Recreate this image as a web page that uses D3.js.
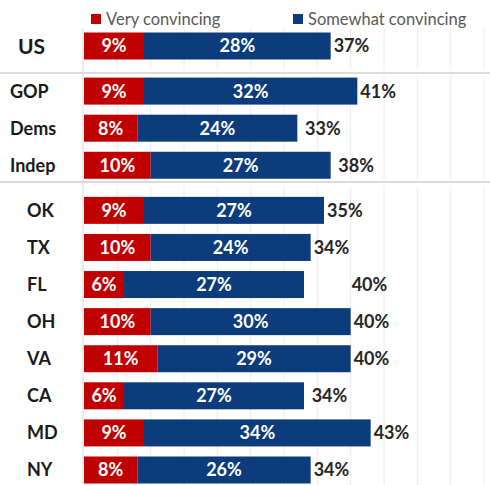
<!DOCTYPE html>
<html>
<head>
<meta charset="utf-8">
<script src="https://cdn.jsdelivr.net/npm/d3@7"></script>
<style>
  html, body { margin: 0; padding: 0; background: #fff; }
  svg { display: block; }
</style>
</head>
<body>
<svg id="chart" width="490" height="485"></svg>
<script>
// Share finding the arguments convincing, by group
const categories = ["US", "GOP", "Dems", "Indep", "OK", "TX", "FL", "OH", "VA", "CA", "MD", "NY"];
const groupOf = [0, 1, 1, 1, 2, 2, 2, 2, 2, 2, 2, 2];
const veryConvincing = [9, 9, 8, 10, 9, 10, 6, 10, 11, 6, 9, 8];
const somewhatConvincing = [28, 32, 24, 27, 27, 24, 27, 30, 29, 27, 34, 26];
const totals = [37, 41, 33, 38, 35, 34, 40, 40, 40, 34, 43, 34];
const seriesNames = ["Very convincing", "Somewhat convincing"];
const gridTicks = [5, 10, 15, 20, 25, 30, 35, 40, 45, 50, 55, 60];

const W = 490, H = 485;
const colors = ["#c00000", "#0c3c7c"];
const font = "Lato, 'Open Sans', sans-serif";

const svg = d3.select("#chart");

const x = d3.scaleLinear().domain([0, 60]).range([84, 484]);

// Rows are evenly stepped, with an extra gap between the three blocks
const groupGap = 8;
const rowIndex = d3.scaleLinear().domain([0, categories.length - 1]).range([46, 470 - 2 * groupGap]);
const rowCenter = i => rowIndex(i) + groupOf[i] * groupGap;
const barH = 27;

// light vertical gridlines, broken at each block separator
const blockSpans = [[28, 70], [76, 180], [186, 485]];
blockSpans.forEach(([y0, y1]) => {
  svg.append("g").selectAll("line").data(gridTicks).join("line")
    .attr("x1", d => x(d)).attr("x2", d => x(d))
    .attr("y1", y0).attr("y2", y1)
    .attr("stroke", "#ececec").attr("stroke-width", 1);
});

// category axis line
svg.append("line")
  .attr("x1", x(0) - 1).attr("x2", x(0) - 1)
  .attr("y1", 28).attr("y2", H)
  .attr("stroke", "#d9d9d9").attr("stroke-width", 1);

// horizontal separators between US / party / state blocks
[73, 182].forEach(y => {
  svg.append("line")
    .attr("x1", 0).attr("x2", W)
    .attr("y1", y).attr("y2", y)
    .attr("stroke", "#dcdcdc").attr("stroke-width", 2);
});

// legend
const legend = svg.append("g");
const legendX = [91, 293];
seriesNames.forEach((name, k) => {
  legend.append("rect")
    .attr("x", legendX[k]).attr("y", 14)
    .attr("width", 10).attr("height", 10)
    .attr("fill", colors[k]);
  legend.append("text")
    .attr("x", legendX[k] + 15).attr("y", 24.5)
    .attr("font-family", font).attr("font-size", 16.5)
    .attr("fill", "#595959")
    .text(name);
});

// stacked bars
const stacks = categories.map((c, i) => {
  const v = veryConvincing[i], s = somewhatConvincing[i];
  return [
    { i, k: 0, x0: 0, x1: v, value: v },
    { i, k: 1, x0: v, x1: v + s, value: s }
  ];
}).flat();

svg.append("g").selectAll("rect").data(stacks).join("rect")
  .attr("x", d => x(d.x0))
  .attr("width", d => x(d.x1) - x(d.x0))
  .attr("y", d => rowCenter(d.i) - barH / 2)
  .attr("height", barH)
  .attr("fill", d => colors[d.k]);

// values inside the segments
svg.append("g").selectAll("text").data(stacks).join("text")
  .attr("x", d => (x(d.x0) + x(d.x1)) / 2)
  .attr("y", d => rowCenter(d.i))
  .attr("dy", "0.36em")
  .attr("text-anchor", "middle")
  .attr("font-family", font).attr("font-weight", 700).attr("font-size", 18)
  .attr("fill", "#fff")
  .text(d => d.value + "%");

// totals to the right of each bar, never overlapping it
const barEnd = i => veryConvincing[i] + somewhatConvincing[i];
svg.append("g").selectAll("text").data(categories).join("text")
  .attr("x", (d, i) => Math.max(x(totals[i]) + 1, x(barEnd(i)) + 3))
  .attr("y", (d, i) => rowCenter(i))
  .attr("dy", "0.36em")
  .attr("font-family", font).attr("font-weight", 700).attr("font-size", 18)
  .attr("fill", "#262626")
  .text((d, i) => totals[i] + "%");

// category labels
const labelIndent = [18, 10, 27];
svg.append("g").selectAll("text").data(categories).join("text")
  .attr("x", (d, i) => labelIndent[groupOf[i]])
  .attr("y", (d, i) => rowCenter(i))
  .attr("dy", "0.36em")
  .attr("font-family", font).attr("font-weight", 700)
  .attr("font-size", (d, i) => groupOf[i] === 0 ? 21 : 18)
  .attr("fill", "#1a1a1a")
  .text(d => d);
</script>
</body>
</html>
